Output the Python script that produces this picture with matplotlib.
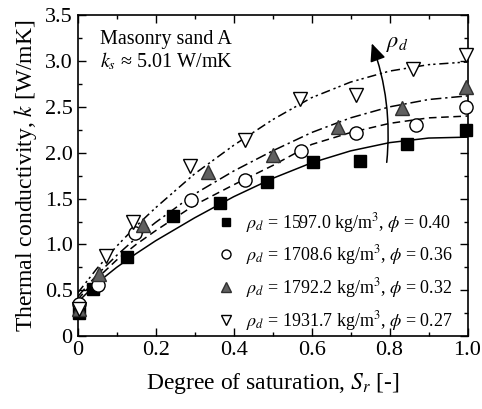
import matplotlib
matplotlib.use("Agg")
import matplotlib.pyplot as plt
from matplotlib.lines import Line2D
from matplotlib.patches import FancyArrowPatch
from matplotlib.ticker import MultipleLocator, FuncFormatter

plt.rcParams['font.family'] = ['Liberation Serif', 'DejaVu Serif']
plt.rcParams['mathtext.fontset'] = 'stix'

# measured data
sq_x = [0.003, 0.04, 0.126, 0.245, 0.365, 0.485, 0.604, 0.724, 0.844, 0.997]
sq_y = [0.25, 0.51, 0.865, 1.31, 1.45, 1.68, 1.90, 1.91, 2.09, 2.25]
ci_x = [0.003, 0.053, 0.147, 0.292, 0.429, 0.574, 0.715, 0.869, 0.997]
ci_y = [0.35, 0.556, 1.12, 1.49, 1.70, 2.02, 2.22, 2.30, 2.50]
tu_x = [0.003, 0.055, 0.168, 0.335, 0.50, 0.668, 0.832, 0.997]
tu_y = [0.30, 0.68, 1.21, 1.79, 1.98, 2.28, 2.49, 2.72]
td_x = [0.003, 0.073, 0.143, 0.288, 0.429, 0.571, 0.714, 0.859, 0.997]
td_y = [0.30, 0.87, 1.25, 1.86, 2.14, 2.59, 2.63, 2.91, 3.06]

# model curves
cx = [0, 0.05, 0.1, 0.15, 0.2, 0.3, 0.4, 0.5, 0.6, 0.7, 0.8, 0.9, 1.0]
c1 = [0.37, 0.58, 0.75, 0.90, 1.04, 1.29, 1.52, 1.72, 1.89, 2.02, 2.11, 2.16, 2.17]
c2 = [0.40, 0.63, 0.83, 1.00, 1.15, 1.43, 1.65, 1.86, 2.09, 2.22, 2.32, 2.38, 2.40]
c3 = [0.43, 0.67, 0.88, 1.07, 1.24, 1.55, 1.80, 2.02, 2.22, 2.38, 2.50, 2.58, 2.62]
c4 = [0.47, 0.74, 0.98, 1.20, 1.40, 1.77, 2.08, 2.36, 2.60, 2.77, 2.89, 2.96, 2.99]

labels = [r'$\rho_d$ = 1597.0 kg/m$^3$, $\phi$ = 0.40',
          r'$\rho_d$ = 1708.6 kg/m$^3$, $\phi$ = 0.36',
          r'$\rho_d$ = 1792.2 kg/m$^3$, $\phi$ = 0.32',
          r'$\rho_d$ = 1931.7 kg/m$^3$, $\phi$ = 0.27']

fig = plt.figure(figsize=(4.82, 4.09), dpi=100)
ax = fig.add_axes([0.161, 0.178, 0.809, 0.785])

lw = 1.1
ax.plot(cx, c1, '-', color='black', lw=lw)
ax.plot(cx, c2, color='black', lw=lw, dashes=(5, 3))
ax.plot(cx, c3, color='black', lw=lw, dashes=(7, 2.5, 1.5, 2.5))
ax.plot(cx, c4, color='black', lw=lw, dashes=(6, 2.5, 1.5, 2, 1.5, 2.5))

ms = 9.5
ax.plot(sq_x, sq_y, 's', ms=ms*0.95, mfc='black', mec='black', ls='none', clip_on=False, zorder=3)
ax.plot(ci_x, ci_y, 'o', ms=ms, mfc='white', mec='black', mew=1.0, ls='none', clip_on=False, zorder=3)
ax.plot(tu_x, tu_y, '^', ms=ms, mfc='#606060', mec='#303030', mew=1.0, ls='none', clip_on=False, zorder=3)
ax.plot(td_x, td_y, 'v', ms=ms*1.05, mfc='white', mec='black', mew=1.0, ls='none', clip_on=False, zorder=3)

ax.set_xlim(0, 1.0)
ax.set_ylim(0, 3.5)
ax.xaxis.set_major_locator(MultipleLocator(0.2))
ax.xaxis.set_minor_locator(MultipleLocator(0.1))
ax.yaxis.set_major_locator(MultipleLocator(0.5))
ax.yaxis.set_minor_locator(MultipleLocator(0.25))
fmt = FuncFormatter(lambda v, p: '0' if abs(v) < 1e-9 else '%.1f' % v)
ax.xaxis.set_major_formatter(fmt)
ax.yaxis.set_major_formatter(fmt)
ax.tick_params(which='both', direction='in', top=True, right=True, labelsize=16)
ax.tick_params(which='major', length=6, width=1)
ax.tick_params(which='minor', length=3, width=1)
for s in ax.spines.values():
    s.set_linewidth(1.2)

ax.set_xlabel(r'Degree of saturation, $S_r$ [-]', fontsize=17, labelpad=8)
ax.set_ylabel(r'Thermal conductivity, $k$ [W/mK]', fontsize=17, labelpad=4)

ax.text(0.057, 3.23, 'Masonry sand A', fontsize=14.5, va='center', ha='left')
ax.text(0.057, 2.99, r'$k_s$ ≈ 5.01 W/mK', fontsize=14.5, va='center', ha='left')

arr = FancyArrowPatch((0.792, 1.865), (0.752, 3.22), connectionstyle='arc3,rad=0.12',
                      arrowstyle='-|>,head_length=9,head_width=4', color='black', lw=1.1,
                      mutation_scale=1.2)
ax.add_patch(arr)
ax.text(0.79, 3.18, r'$\rho_d$', fontsize=16, ha='left', va='center')

handles = [Line2D([], [], marker='s', ls='none', ms=6, mfc='black', mec='black'),
           Line2D([], [], marker='o', ls='none', ms=6.5, mfc='white', mec='black'),
           Line2D([], [], marker='^', ls='none', ms=6.5, mfc='#606060', mec='#303030'),
           Line2D([], [], marker='v', ls='none', ms=7, mfc='white', mec='black')]
leg = ax.legend(handles, labels, loc='lower right', bbox_to_anchor=(0.998, -0.034),
                frameon=False, fontsize=13, handlelength=1.0, handletextpad=0.6,
                labelspacing=0.48, borderpad=0.3)

fig.savefig('out.png', dpi=100)
